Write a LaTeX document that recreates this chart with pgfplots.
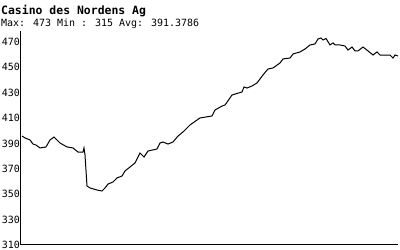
\documentclass[border=0pt]{standalone}
\usepackage{fontspec}
\setmainfont{DejaVu Sans Mono}
\usepackage{pgfplots}
\pgfplotsset{compat=1.18}
\begin{document}
\begin{tikzpicture}[x=1bp,y=1bp]
\path[use as bounding box] (-21,-5) rectangle (379,245);
\begin{axis}[
  at={(0,0)}, anchor=south west,
  scale only axis, width=377bp, height=214bp,
  xmin=21, xmax=398, ymin=310, ymax=478.5,
  axis x line=bottom, axis y line=left,
  axis line style={-, line width=1bp, black},
  xtick=\empty,
  ytick={310,330,350,370,390,410,430,450,470},
  major tick length=0pt,
  yticklabel style={anchor=east, inner sep=1pt, font=\fontsize{10}{10}\selectfont},
  /pgf/number format/assume math mode=true,
  clip=false,
]
\addplot[black, line width=1bp, sharp plot] coordinates {
(22,395.8) (25,394.3) (30,392.7) (33,389.5) (36,388.7) (40,386.4) (46,387.2)
(50,392.7) (54,395.0) (60,390.3) (67,387.2) (73,386.4) (78,383.2) (83,383.2)
(84,386.4) (85,380.9) (87,356.5) (90,354.9) (97,353.3) (102,352.5) (105,354.9)
(108,358.0) (113,359.6) (117,362.8) (122,364.3) (125,368.3) (130,371.4)
(135,374.6) (140,382.4) (144,379.3) (148,384.0) (157,385.6) (160,390.3)
(163,391.1) (168,389.5) (173,391.1) (178,395.8) (183,399.0) (190,404.5)
(197,408.4) (200,410.0) (212,411.6) (215,416.3) (222,419.4) (225,420.2)
(232,428.1) (242,430.5) (244,434.4) (247,433.6) (252,435.2) (257,437.6)
(263,443.9) (268,448.6) (273,449.4) (280,453.3) (283,456.5) (290,457.2)
(293,460.4) (300,462.0) (305,464.3) (310,467.5) (315,468.3) (318,472.2)
(321,473.0) (323,471.4) (326,472.6) (330,467.5) (333,469.1) (335,467.5)
(340,467.5) (345,466.7) (348,463.5) (352,465.9) (355,462.8) (358,462.8)
(363,465.9) (368,462.8) (373,459.6) (377,462.0) (380,459.6) (387,459.6)
(390,459.6) (393,457.2) (395,459.6) (398,458.8)
};
\end{axis}
\node[anchor=base west, inner sep=0pt, font=\fontsize{11.5}{12}\selectfont\bfseries] at (-20,231) {Casino des Nordens Ag};
\node[anchor=base west, inner sep=0pt, font=\fontsize{10}{10}\selectfont] at (-20,219) {Max: 473 Min : 315 Avg: 391.3786};
\end{tikzpicture}
\end{document}
